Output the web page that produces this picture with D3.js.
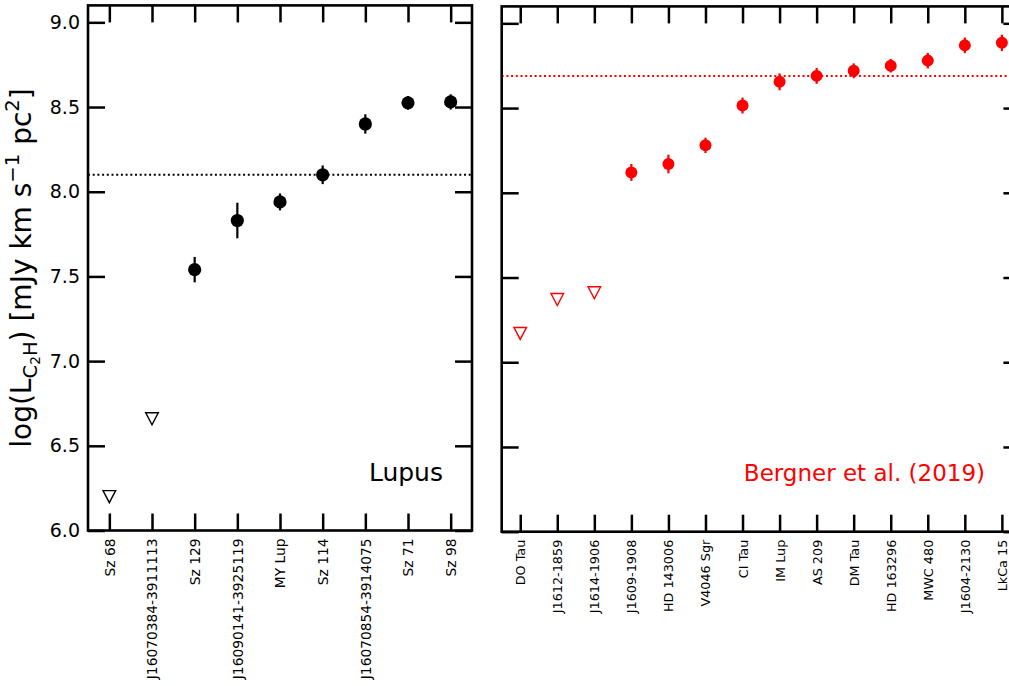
<!DOCTYPE html>
<html>
<head>
<meta charset="utf-8">
<script src="https://cdn.jsdelivr.net/npm/d3@7"></script>
<style>
  html, body { margin: 0; padding: 0; background: #fff; }
  svg { display: block; font-family: "DejaVu Sans", sans-serif; }
</style>
</head>
<body>
<svg id="chart" width="1009" height="686"></svg>
<script>
// ---------- data ----------
const lupusNames = ["Sz 68", "J16070384-3911113", "Sz 129", "J16090141-3925119", "MY Lup",
  "Sz 114", "J16070854-3914075", "Sz 71", "Sz 98"];
const lupusValues = [6.20, 6.66, 7.54, 7.83, 7.94, 8.10, 8.40, 8.525, 8.53];
const lupusErrors = [null, null, 0.075, 0.105, 0.05, 0.055, 0.057, 0.04, 0.045];
const lupusIsLimit = [true, true, false, false, false, false, false, false, false];
const lupusMedian = 8.10;

const bergnerNames = ["DO Tau", "J1612-1859", "J1614-1906", "J1609-1908", "HD 143006",
  "V4046 Sgr", "CI Tau", "IM Lup", "AS 209", "DM Tau", "HD 163296", "MWC 480",
  "J1604-2130", "LkCa 15"];
const bergnerValues = [7.17, 7.37, 7.41, 8.12, 8.17, 8.28, 8.515, 8.655, 8.69, 8.72, 8.75, 8.78, 8.87, 8.885];
const bergnerErrors = [null, null, null, 0.05, 0.055, 0.045, 0.047, 0.05, 0.047, 0.044, 0.04, 0.046, 0.046, 0.048];
const bergnerIsLimit = [true, true, true, false, false, false, false, false, false, false, false, false, false, false];
const bergnerMedian = 8.69;

const yTicks = [6.0, 6.5, 7.0, 7.5, 8.0, 8.5, 9.0];
const yDomain = [6.0, 9.1];

// ---------- drawing ----------
const svg = d3.select("#chart");
svg.append("rect").attr("width", 1009).attr("height", 686).attr("fill", "#fff");

function panel(opts) {
  const { names, values, errors, limits, median, color, left, right, top, bottom,
          showYLabels, label, labelX, labelSize, r, xLabelSize } = opts;
  const n = names.length;
  const x = d3.scaleLinear().domain([-0.5, n - 0.5]).range([left, right]);
  const y = d3.scaleLinear().domain(yDomain).range([bottom, top]);
  const g = svg.append("g");
  const TL = 17;

  // median dotted line
  g.append("line")
    .attr("x1", x(-0.5)).attr("x2", x(n - 0.5))
    .attr("y1", y(median)).attr("y2", y(median))
    .attr("stroke", color).attr("stroke-width", 2)
    .attr("stroke-dasharray", "2,2.7");

  const idx = d3.range(n);
  // error bars
  g.selectAll(".err").data(idx.filter(i => !limits[i])).join("line")
    .attr("x1", i => x(i)).attr("x2", i => x(i))
    .attr("y1", i => y(values[i] - errors[i])).attr("y2", i => y(values[i] + errors[i]))
    .attr("stroke", color).attr("stroke-width", 2.2);
  // detections
  g.selectAll(".pt").data(idx.filter(i => !limits[i])).join("circle")
    .attr("cx", i => x(i)).attr("cy", i => y(values[i])).attr("r", r)
    .attr("fill", color);
  // upper limits (open down-triangles)
  g.selectAll(".lim").data(idx.filter(i => limits[i])).join("path")
    .attr("d", "M-6.3,-6 L6.3,-6 L0,6 Z")
    .attr("transform", i => `translate(${x(i)},${y(values[i])})`)
    .attr("fill", "none").attr("stroke", color).attr("stroke-width", 1.4);

  // axes with inward ticks
  const axL = d3.axisLeft(y).tickValues(yTicks).tickSizeInner(-TL).tickSizeOuter(0).tickPadding(8)
    .tickFormat(showYLabels ? d3.format(".1f") : () => "");
  const axR = d3.axisRight(y).tickValues(yTicks).tickSizeInner(-TL).tickSizeOuter(0).tickFormat(() => "");
  const axB = d3.axisBottom(x).tickValues(idx).tickSizeInner(-TL).tickSizeOuter(0)
    .tickFormat(i => names[i]);
  const axT = d3.axisTop(x).tickValues(idx).tickSizeInner(-TL).tickSizeOuter(0).tickFormat(() => "");

  const gl = g.append("g").attr("transform", `translate(${left},0)`).call(axL);
  const gr = g.append("g").attr("transform", `translate(${x(n - 0.5)},0)`).call(axR);
  const gb = g.append("g").attr("transform", `translate(0,${bottom})`).call(axB);
  const gt = g.append("g").attr("transform", `translate(0,${top})`).call(axT);
  [gl, gr, gb, gt].forEach(a => {
    a.select(".domain").remove();
    a.selectAll(".tick line").attr("stroke", "#000").attr("stroke-width", 2.5);
  });
  gl.selectAll("text").attr("font-size", 19).attr("fill", "#000")
    .attr("font-family", "DejaVu Sans");
  gb.selectAll("text")
    .attr("font-size", xLabelSize).attr("fill", "#000").attr("font-family", "DejaVu Sans")
    .attr("y", 0).attr("x", -8).attr("dy", "0.35em")
    .attr("transform", "rotate(-90)")
    .style("text-anchor", "end");

  // spines
  g.append("rect")
    .attr("x", left).attr("y", top)
    .attr("width", x(n - 0.5) - left).attr("height", bottom - top)
    .attr("fill", "none").attr("stroke", "#000").attr("stroke-width", 2.6);

  g.append("text")
    .attr("x", labelX).attr("y", 481)
    .attr("text-anchor", "end")
    .attr("font-size", labelSize)
    .attr("fill", color)
    .text(label);
}

panel({
  names: lupusNames, values: lupusValues, errors: lupusErrors, limits: lupusIsLimit,
  median: lupusMedian, color: "#000", left: 88, right: 472, top: 5.4, bottom: 530.5,
  showYLabels: true, label: "Lupus", labelX: 443, labelSize: 25, r: 6.6, xLabelSize: 13.8
});
panel({
  names: bergnerNames, values: bergnerValues, errors: bergnerErrors, limits: bergnerIsLimit,
  median: bergnerMedian, color: "#ff0000", left: 501.7, right: 1020.4, top: 6.4, bottom: 531.7,
  showYLabels: false, label: "Bergner et al. (2019)", labelX: 985, labelSize: 23, r: 6, xLabelSize: 12.8
});

// y-axis label with sub/superscripts
const yl = svg.append("text")
  .attr("transform", "translate(31,268) rotate(-90)")
  .attr("text-anchor", "middle")
  .attr("font-size", 28)
  .attr("fill", "#000");
yl.append("tspan").text("log(L");
yl.append("tspan").attr("font-size", 19.6).attr("dy", 6).text("C");
yl.append("tspan").attr("font-size", 13.7).attr("dy", 3).text("2");
yl.append("tspan").attr("font-size", 19.6).attr("dy", -3).text("H");
yl.append("tspan").attr("dy", -6).text(") [mJy km s");
yl.append("tspan").attr("font-size", 19.6).attr("dy", -12).text("\u22121");
yl.append("tspan").attr("dy", 12).text(" pc");
yl.append("tspan").attr("font-size", 19.6).attr("dy", -12).text("2");
yl.append("tspan").attr("dy", 12).text("]");
</script>
</body>
</html>
